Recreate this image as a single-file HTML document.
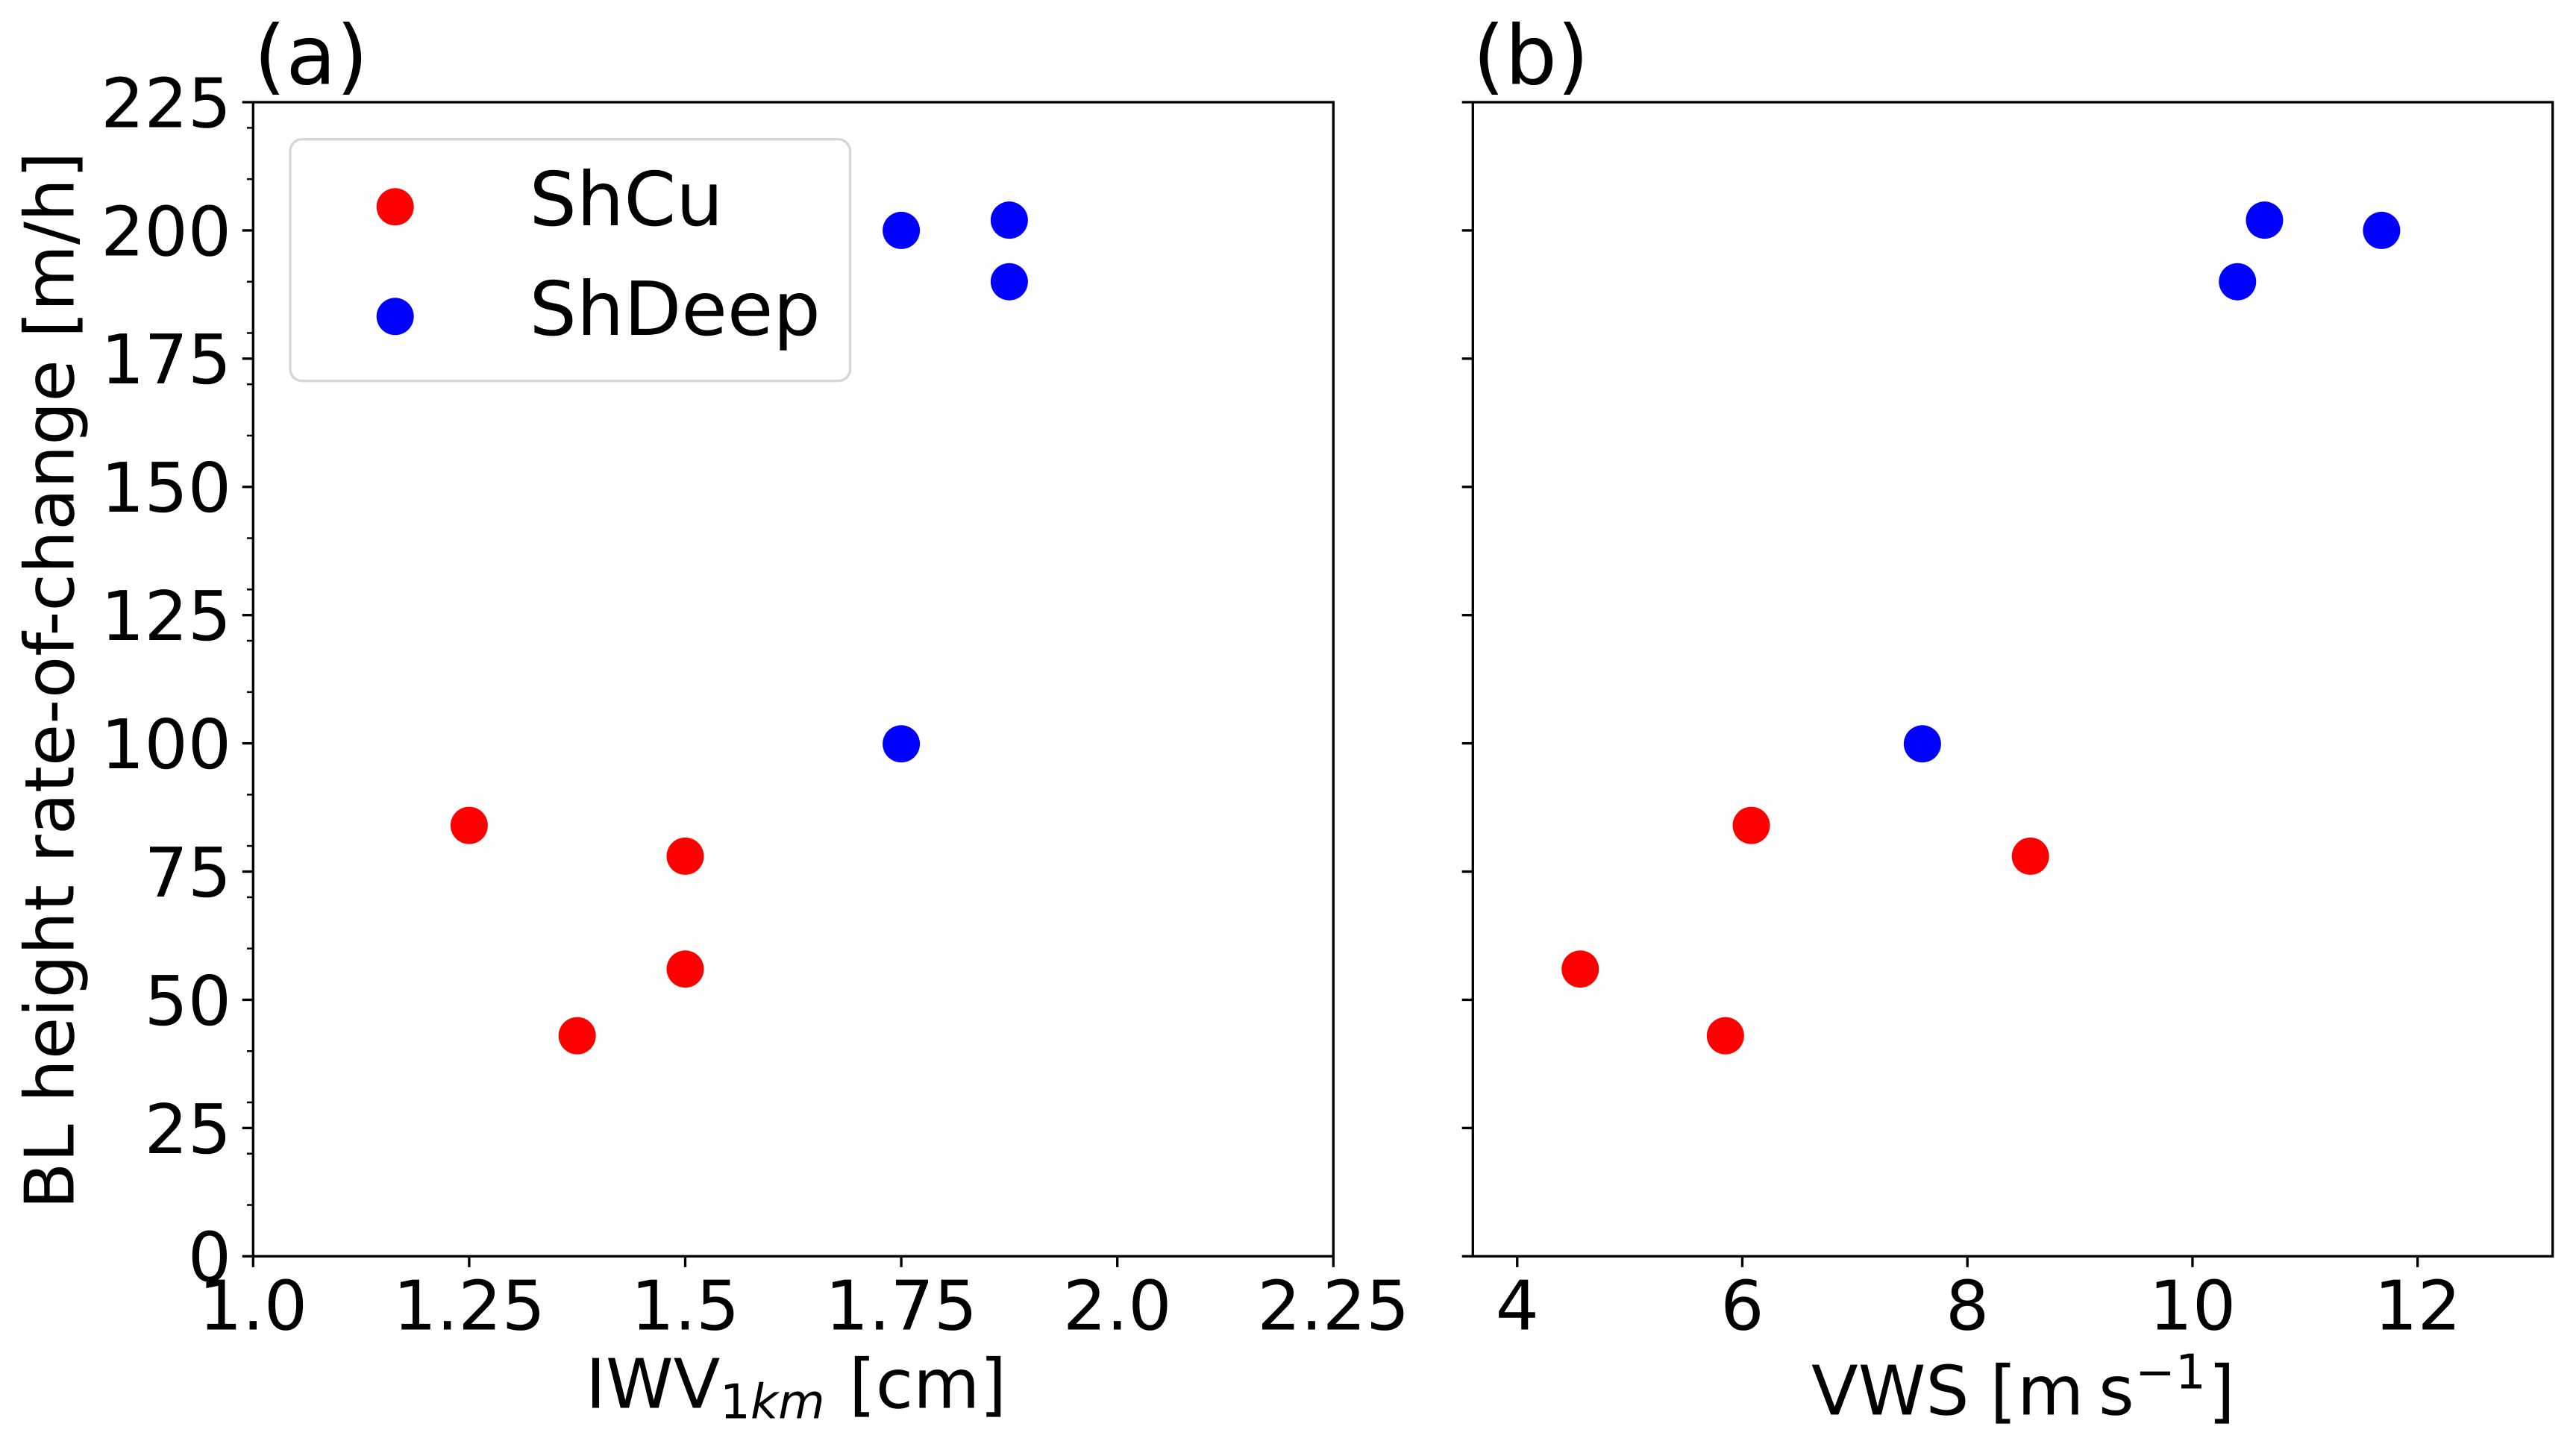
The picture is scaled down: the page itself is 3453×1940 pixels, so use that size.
<!DOCTYPE html>
<html lang="en">
<head>
<meta charset="utf-8">
<title>BL height rate-of-change vs IWV and VWS</title>
<style>
html,body{margin:0;padding:0;background:#fff;width:3453px;height:1940px;overflow:hidden}
svg{display:block}
text{font-family:"DejaVu Sans","Liberation Sans",sans-serif;fill:#000;text-rendering:geometricPrecision}
</style>
</head>
<body>
<svg id="chart" xmlns="http://www.w3.org/2000/svg" width="3453" height="1940" viewBox="0 0 3453 1940">
  <rect x="0" y="0" width="3453" height="1940" fill="#fff"/>
  <g id="panel-a"></g>
  <g id="panel-b"></g>
  <text x="340.3" y="112.5" font-size="110">(a)</text>
  <text x="1974.3" y="112.5" font-size="110">(b)</text>
  <text transform="translate(98.3 912.3) rotate(-90)" text-anchor="middle" font-size="91.67">BL height rate-of-change [m/h]</text>
  <text y="1887.3" font-size="91.67"><tspan x="785">IWV</tspan><tspan x="965" y="1901.7" font-size="64.2">1</tspan><tspan x="1006" y="1901.7" font-size="64.2" font-style="italic">km</tspan><tspan x="1138" y="1887.3">[cm]</tspan></text>
  <text y="1896.7" font-size="91.67"><tspan x="2428">VWS</tspan><tspan x="2667.5">[</tspan><tspan x="2704">m</tspan><tspan x="2813">s</tspan><tspan x="2862" y="1861.7" font-size="64.2">−</tspan><tspan x="2916" y="1861.7" font-size="64.2">1</tspan><tspan x="2960" y="1896.7">]</tspan></text>
  <g>
    <rect x="389" y="186.7" width="750.5" height="324" rx="16" ry="16" fill="#fff" fill-opacity="0.8" stroke="#d6d6d6" stroke-width="3.33"/>
    <circle cx="529.7" cy="277.3" r="25" fill="#ff0000"/>
    <text x="709.5" y="302" font-size="100">ShCu</text>
    <circle cx="529.7" cy="424.3" r="25" fill="#0000ff"/>
    <text x="709.5" y="449" font-size="100">ShDeep</text>
  </g>
</svg>
<script>
// y axis (shared)
const yTickValues = [0, 25, 50, 75, 100, 125, 150, 175, 200, 225];
const yMinorTickValues = [10, 20, 30, 40, 60, 70, 80, 90, 110, 120, 130, 140, 160, 170, 180, 190, 210, 220];
const yDomain = [0, 225];

// panel (a)
const aXDomain = [1.0, 2.25];
const aXTickValues = [1.0, 1.25, 1.5, 1.75, 2.0, 2.25];
const aXTickLabels = ["1.0", "1.25", "1.5", "1.75", "2.0", "2.25"];
const aShCuX = [1.25, 1.5, 1.5, 1.375];
const aShCuY = [84, 78, 56, 43];
const aShDeepX = [1.75, 1.75, 1.875, 1.875];
const aShDeepY = [99.9, 200, 202, 190];

// panel (b)
const bXDomain = [3.606, 13.2];
const bXTickValues = [4, 6, 8, 10, 12];
const bXTickLabels = ["4", "6", "8", "10", "12"];
const bShCuX = [6.08, 8.56, 4.56, 5.85];
const bShCuY = [84, 78, 56, 43];
const bShDeepX = [7.6, 10.4, 10.64, 11.68];
const bShDeepY = [99.9, 190, 202, 200];

const NS = "http://www.w3.org/2000/svg";
const plotTop = 137, plotBottom = 1684.3;
const yScale = v => plotBottom - (v - yDomain[0]) / (yDomain[1] - yDomain[0]) * (plotBottom - plotTop);
const linear = (domain, left, right) => v => left + (v - domain[0]) / (domain[1] - domain[0]) * (right - left);

function line(parent, x1, y1, x2, y2, width) {
  const el = document.createElementNS(NS, "line");
  el.setAttribute("x1", x1);
  el.setAttribute("y1", y1);
  el.setAttribute("x2", x2);
  el.setAttribute("y2", y2);
  el.setAttribute("stroke", "#000");
  el.setAttribute("stroke-width", width);
  parent.appendChild(el);
  return el;
}

function label(parent, x, y, anchor, str) {
  const el = document.createElementNS(NS, "text");
  el.setAttribute("x", x);
  el.setAttribute("y", y);
  el.setAttribute("text-anchor", anchor);
  el.setAttribute("font-size", "91.67");
  el.textContent = str;
  parent.appendChild(el);
  return el;
}

function points(parent, xs, ys, xScale, color, seriesName) {
  xs.forEach((xv, i) => {
    const c = document.createElementNS(NS, "circle");
    c.setAttribute("cx", xScale(xv));
    c.setAttribute("cy", yScale(ys[i]));
    c.setAttribute("r", 25);
    c.setAttribute("fill", color);
    
    
    parent.appendChild(c);
  });
}

function panel(id, left, right, xDomain, xTicks, xLabels, withYLabels, sets) {
  const g = document.getElementById(id);
  const xScale = linear(xDomain, left, right);

  sets.forEach(s => points(g, s.x, s.y, xScale, s.color, s.name));

  const frame = document.createElementNS(NS, "rect");
  frame.setAttribute("x", left);
  frame.setAttribute("y", plotTop);
  frame.setAttribute("width", right - left);
  frame.setAttribute("height", plotBottom - plotTop);
  frame.setAttribute("fill", "none");
  frame.setAttribute("stroke", "#000");
  frame.setAttribute("stroke-width", 3.33);
  
  
  g.appendChild(frame);

  yTickValues.forEach((v, i) => {
    const t = line(g, left - 14.6, yScale(v), left, yScale(v), 3.33);
    
    
    if (withYLabels) {
      const tl = label(g, left - 29.2, yScale(v) + 33.4, "end", String(yTickValues[i]));
      
      
    }
  });

  if (withYLabels) {
    yMinorTickValues.forEach(v => {
      const t = line(g, left - 8.3, yScale(v), left, yScale(v), 2.5);
      
      
    });
  }

  xTicks.forEach((v, i) => {
    const t = line(g, xScale(v), plotBottom, xScale(v), plotBottom + 14.6, 3.33);
    
    
    const tl = label(g, xScale(v), 1782.7, "middle", xLabels[i]);
    
    
  });
}

panel("panel-a", 339.3, 1787.3, aXDomain, aXTickValues, aXTickLabels, true, [
  { x: aShCuX, y: aShCuY, color: "#ff0000", name: "shcu" },
  { x: aShDeepX, y: aShDeepY, color: "#0000ff", name: "shdeep" }
]);
panel("panel-b", 1974.3, 3421.7, bXDomain, bXTickValues, bXTickLabels, false, [
  { x: bShCuX, y: bShCuY, color: "#ff0000", name: "shcu" },
  { x: bShDeepX, y: bShDeepY, color: "#0000ff", name: "shdeep" }
]);
</script>
</body>
</html>
